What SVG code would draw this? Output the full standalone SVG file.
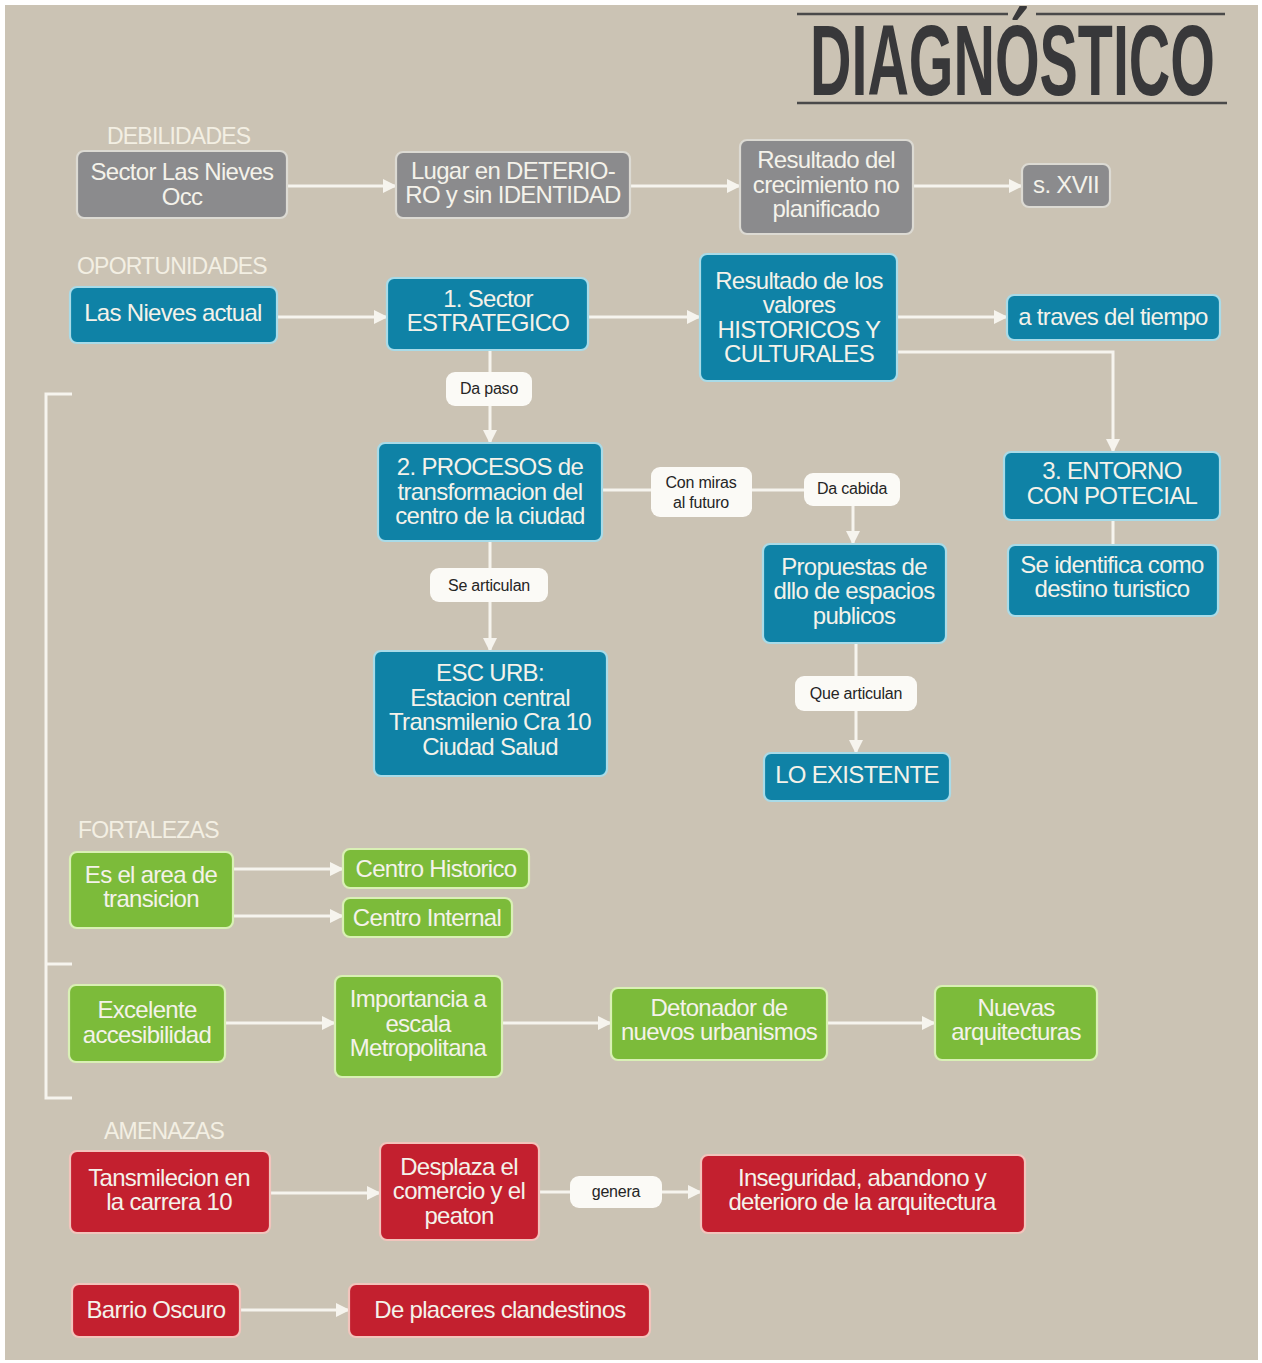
<svg xmlns="http://www.w3.org/2000/svg" width="1262" height="1363" viewBox="0 0 1262 1363">
<defs>
<style>
.bg{fill:#cbc3b4}
.box{stroke-width:2.2}
.g{fill:#8b8b8d;stroke:#dcdad3}
.b{fill:#0f82a6;stroke:#a9dbe8}
.gr{fill:#7cbb3a;stroke:#d9f0b5}
.r{fill:#c3202f;stroke:#f2c4bc}
.t{font-family:"Liberation Sans",Arial,sans-serif;font-size:24px;letter-spacing:-0.7px;fill:#f4f2ea;text-anchor:middle}
.sec{font-family:"Liberation Sans",Arial,sans-serif;font-size:23px;letter-spacing:-0.8px;fill:#f3efe3}
.pill{fill:#fbfaf6}
.pt{font-family:"Liberation Sans",Arial,sans-serif;font-size:16px;letter-spacing:-0.2px;fill:#252525;text-anchor:middle}
.c{fill:none;stroke:#f6f4ee;stroke-width:3}
.ttl{font-family:"Liberation Sans",Arial,sans-serif;font-weight:bold;font-size:100px;fill:#38383a}
</style>
<marker id="ah" viewBox="0 0 14 14" refX="13" refY="7" markerWidth="14" markerHeight="14" markerUnits="userSpaceOnUse" orient="auto">
<path d="M0 0 L14 7 L0 14 Z" fill="#f6f4ee"/>
</marker>
</defs>
<rect x="0" y="0" width="1262" height="1363" fill="#ffffff"/>
<rect class="bg" x="5" y="5" width="1253" height="1355"/>

<g id="title">
<path d="M797 14 H1008 M1036 14 H1225 M797 103 H1227" stroke="#4a4a4a" stroke-width="2.5" fill="none"/>
<text class="ttl" transform="translate(810,95) scale(0.574,1)" x="0" y="0">DIAGNÓSTICO</text>
</g>

<g id="section-labels">
<text class="sec" x="107" y="144">DEBILIDADES</text>
<text class="sec" x="77" y="274">OPORTUNIDADES</text>
<text class="sec" x="78" y="838">FORTALEZAS</text>
<text class="sec" x="104" y="1139">AMENAZAS</text>
</g>

<g id="connectors">
<path class="c" d="M72 394 H46 V1098 H72 M46 964 H72"/>
<path class="c" marker-end="url(#ah)" d="M287 186 H396"/>
<path class="c" marker-end="url(#ah)" d="M630 186 H740"/>
<path class="c" marker-end="url(#ah)" d="M913 186 H1022"/>
<path class="c" marker-end="url(#ah)" d="M277 317 H387"/>
<path class="c" marker-end="url(#ah)" d="M588 317 H700"/>
<path class="c" marker-end="url(#ah)" d="M897 317 H1007"/>
<path class="c" marker-end="url(#ah)" d="M897 352 H1113 V452"/>
<path class="c" d="M1113 520 V545"/>
<path class="c" marker-end="url(#ah)" d="M490 350 V443"/>
<path class="c" marker-end="url(#ah)" d="M490 541 V651"/>
<path class="c" marker-end="url(#ah)" d="M602 490 H853 V544"/>
<path class="c" marker-end="url(#ah)" d="M856 643 V753"/>
<path class="c" marker-end="url(#ah)" d="M233 869 H343"/>
<path class="c" marker-end="url(#ah)" d="M233 916 H343"/>
<path class="c" marker-end="url(#ah)" d="M225 1023 H335"/>
<path class="c" marker-end="url(#ah)" d="M502 1023 H611"/>
<path class="c" marker-end="url(#ah)" d="M827 1023 H935"/>
<path class="c" marker-end="url(#ah)" d="M270 1193 H380"/>
<path class="c" marker-end="url(#ah)" d="M539 1192 H701"/>
<path class="c" marker-end="url(#ah)" d="M240 1310 H349"/>
<g id="edge-labels">
<rect class="pill" x="446" y="372" width="86" height="34" rx="9"/>
<text class="pt" x="489" y="394">Da paso</text>
<rect class="pill" x="651" y="467" width="101" height="50" rx="9"/>
<text class="pt" x="701" y="488">Con miras</text>
<text class="pt" x="701" y="508">al futuro</text>
<rect class="pill" x="804" y="473" width="96" height="33" rx="9"/>
<text class="pt" x="852" y="494">Da cabida</text>
<rect class="pill" x="430" y="568" width="118" height="34" rx="9"/>
<text class="pt" x="489" y="591">Se articulan</text>
<rect class="pill" x="795" y="676" width="122" height="35" rx="9"/>
<text class="pt" x="856" y="699">Que articulan</text>
<rect class="pill" x="570" y="1176" width="92" height="32" rx="9"/>
<text class="pt" x="616" y="1197">genera</text>
</g>
</g>

<g id="A1"><rect class="box g" x="77" y="151" width="210" height="67" rx="7"/><text class="t" x="182" y="180">Sector Las Nieves</text><text class="t" x="182" y="205">Occ</text></g>
<g id="A2"><rect class="box g" x="396" y="152" width="234" height="66" rx="7"/><text class="t" x="513" y="179">Lugar en DETERIO-</text><text class="t" x="513" y="203">RO y sin IDENTIDAD</text></g>
<g id="A3"><rect class="box g" x="740" y="140" width="173" height="94" rx="7"/><text class="t" x="826" y="168">Resultado del</text><text class="t" x="826" y="193">crecimiento no</text><text class="t" x="826" y="217">planificado</text></g>
<g id="A4"><rect class="box g" x="1022" y="164" width="88" height="43" rx="7"/><text class="t" x="1066" y="193">s. XVII</text></g>

<g id="B1"><rect class="box b" x="70" y="287" width="207" height="56" rx="7"/><text class="t" x="173" y="321">Las Nieves actual</text></g>
<g id="B2"><rect class="box b" x="387" y="278" width="201" height="72" rx="7"/><text class="t" x="488" y="307">1. Sector</text><text class="t" x="488" y="331">ESTRATEGICO</text></g>
<g id="B3"><rect class="box b" x="700" y="254" width="197" height="127" rx="7"/><text class="t" x="799" y="289">Resultado de los</text><text class="t" x="799" y="313">valores</text><text class="t" x="799" y="338">HISTORICOS Y</text><text class="t" x="799" y="362">CULTURALES</text></g>
<g id="B4"><rect class="box b" x="1007" y="295" width="213" height="45" rx="7"/><text class="t" x="1113" y="325">a traves del tiempo</text></g>
<g id="B5"><rect class="box b" x="1004" y="452" width="216" height="68" rx="7"/><text class="t" x="1112" y="479">3. ENTORNO</text><text class="t" x="1112" y="504">CON POTECIAL</text></g>
<g id="B6"><rect class="box b" x="1008" y="545" width="210" height="71" rx="7"/><text class="t" x="1112" y="573">Se identifica como</text><text class="t" x="1112" y="597">destino turistico</text></g>
<g id="B7"><rect class="box b" x="378" y="443" width="224" height="98" rx="7"/><text class="t" x="490" y="475">2. PROCESOS de</text><text class="t" x="490" y="500">transformacion del</text><text class="t" x="490" y="524">centro de la ciudad</text></g>
<g id="B8"><rect class="box b" x="374" y="651" width="233" height="125" rx="7"/><text class="t" x="490" y="681">ESC URB:</text><text class="t" x="490" y="706">Estacion central</text><text class="t" x="490" y="730">Transmilenio Cra 10</text><text class="t" x="490" y="755">Ciudad Salud</text></g>
<g id="B9"><rect class="box b" x="763" y="544" width="183" height="99" rx="7"/><text class="t" x="854" y="575">Propuestas de</text><text class="t" x="854" y="599">dllo de espacios</text><text class="t" x="854" y="624">publicos</text></g>
<g id="B10"><rect class="box b" x="764" y="753" width="186" height="48" rx="7"/><text class="t" x="857" y="783">LO EXISTENTE</text></g>

<g id="C1"><rect class="box gr" x="70" y="852" width="163" height="76" rx="7"/><text class="t" x="151" y="883">Es el area de</text><text class="t" x="151" y="907">transicion</text></g>
<g id="C2"><rect class="box gr" x="343" y="849" width="186" height="39" rx="7"/><text class="t" x="436" y="877">Centro Historico</text></g>
<g id="C3"><rect class="box gr" x="343" y="898" width="169" height="39" rx="7"/><text class="t" x="427" y="926">Centro Internal</text></g>
<g id="C4"><rect class="box gr" x="69" y="985" width="156" height="77" rx="7"/><text class="t" x="147" y="1018">Excelente</text><text class="t" x="147" y="1043">accesibilidad</text></g>
<g id="C5"><rect class="box gr" x="335" y="976" width="167" height="101" rx="7"/><text class="t" x="418" y="1007">Importancia a</text><text class="t" x="418" y="1032">escala</text><text class="t" x="418" y="1056">Metropolitana</text></g>
<g id="C6"><rect class="box gr" x="611" y="988" width="216" height="72" rx="7"/><text class="t" x="719" y="1016">Detonador de</text><text class="t" x="719" y="1040">nuevos urbanismos</text></g>
<g id="C7"><rect class="box gr" x="935" y="986" width="162" height="74" rx="7"/><text class="t" x="1016" y="1016">Nuevas</text><text class="t" x="1016" y="1040">arquitecturas</text></g>

<g id="D1"><rect class="box r" x="70" y="1151" width="200" height="82" rx="7"/><text class="t" x="169" y="1186">Tansmilecion en</text><text class="t" x="169" y="1210">la carrera 10</text></g>
<g id="D2"><rect class="box r" x="380" y="1143" width="159" height="97" rx="7"/><text class="t" x="459" y="1175">Desplaza el</text><text class="t" x="459" y="1199">comercio y el</text><text class="t" x="459" y="1224">peaton</text></g>
<g id="D3"><rect class="box r" x="701" y="1155" width="324" height="78" rx="7"/><text class="t" x="862" y="1186">Inseguridad, abandono y</text><text class="t" x="862" y="1210">deterioro de la arquitectura</text></g>
<g id="D4"><rect class="box r" x="72" y="1284" width="168" height="53" rx="7"/><text class="t" x="156" y="1318">Barrio Oscuro</text></g>
<g id="D5"><rect class="box r" x="349" y="1284" width="301" height="53" rx="7"/><text class="t" x="500" y="1318">De placeres clandestinos</text></g>
</svg>
